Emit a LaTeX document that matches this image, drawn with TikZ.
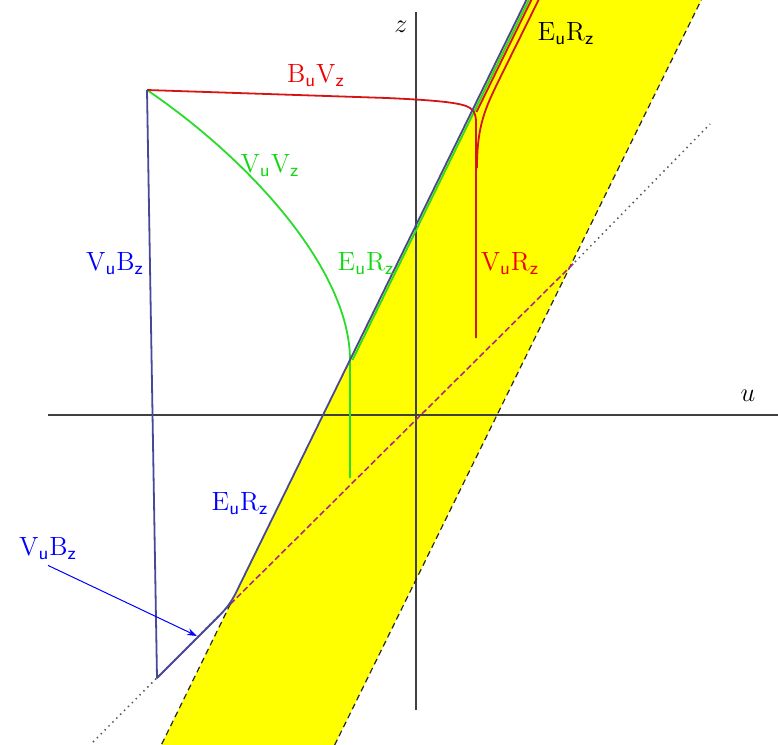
\documentclass[tikz,border=0pt]{standalone}
\usepackage{fix-cm}
\usetikzlibrary{arrows.meta}
\definecolor{edgeblue}{RGB}{72,72,150}
\definecolor{lgreen}{RGB}{40,220,40}
\definecolor{lred}{RGB}{215,20,20}
\definecolor{tgreen}{RGB}{20,215,20}
\definecolor{tred}{RGB}{240,0,0}
\definecolor{tblue}{RGB}{0,0,255}
\definecolor{bandyellow}{RGB}{255,255,0}
\definecolor{dmag}{RGB}{175,40,135}
\newcommand\pairlab[2]{$\mathrm{#1}_{\mathsf{u}}\mathrm{#2}_{\mathsf{z}}$}
\tikzset{
  lab/.style={font=\fontsize{13.2}{15}\selectfont, inner sep=1pt},
  axis/.style={draw=black!75, line width=0.55pt},
  curve/.style={line width=0.9pt},
  bandedge/.style={draw=black!85, line width=0.6pt, dash pattern=on 3pt off 2pt},
}
\begin{document}
\begin{tikzpicture}[x=0.5pt,y=-0.5pt]
\useasboundingbox (0,0) rectangle (778,745);
\begin{scope}
\clip (0,0) rectangle (778,745);
% band
\fill[bandyellow] (528.8,-5) -- (703.7,-5) -- (332.2,750) -- (158.85,750) -- cycle;
% axes
\draw[axis] (48,415) -- (778,415);
\draw[axis] (416,12) -- (416,710);
% band edges
\draw[bandedge] (703.7,-5) -- (332.2,750);
\draw[bandedge] (230.4,604) -- (158.85,750);
% line z=u
\draw[black!65, line width=0.75pt, dotted] (93,742) -- (230.4,604);
\draw[black!65, line width=0.75pt, dotted] (575,262) -- (710,124);
\draw[dmag, line width=0.8pt, dash pattern=on 3pt off 1.5pt] (230.4,604) -- (575,262);
% green
\draw[lgreen, curve] (147,90) .. controls (250,160) and (350,270) .. (350,360) -- (350,478);
\draw[lgreen, curve] (352.5,360) -- (531.3,-5);
% red
\draw[lred, curve] (147,90) -- (387,98) .. controls (430,100) and (455,102) .. (466,106)
   .. controls (472,108) and (476,112) .. (476,122) -- (476,338);
\draw[lred, curve] (476.5,112) -- (533.8,-5);
\draw[lred, curve] (477,168) .. controls (477,125) and (485.3,108) .. (500,78) -- (541,-5);
% blue
\draw[edgeblue, curve, line join=round] (147,90) -- (157,678) -- (218,617)
   .. controls (225,610) and (231,603) .. (236.3,592) -- (528.8,-5);
\end{scope}
% labels
\node[lab] (zlab) at (401,27) {$z$};
\node[lab] (ulab) at (748,396) {$u$};
\node[lab, text=black] (erTop) at (566,33) {\pairlab{E}{R}};
\node[lab, text=tred] (bv) at (316,75) {\pairlab{B}{V}};
\node[lab, text=tgreen] (vv) at (270,165) {\pairlab{V}{V}};
\node[lab, text=tblue] (vbA) at (115,263) {\pairlab{V}{B}};
\node[lab, text=tgreen] (erG) at (366,263) {\pairlab{E}{R}};
\node[lab, text=tred] (vr) at (510,263) {\pairlab{V}{R}};
\node[lab, text=tblue] (erB) at (240,503) {\pairlab{E}{R}};
\node[lab, text=tblue] (vbB) at (48,548) {\pairlab{V}{B}};
\coordinate (vbTip) at (197,636);
\draw[tblue, line width=0.5pt, -{Stealth[length=5pt,width=3.5pt]}] ([yshift=-2pt]vbB.south) -- (vbTip);
\end{tikzpicture}
\end{document}
